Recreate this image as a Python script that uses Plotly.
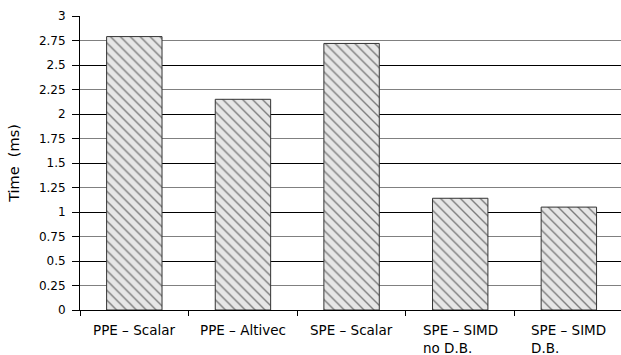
import plotly.graph_objects as go

categories = ["PPE – Scalar", "PPE – Altivec", "SPE – Scalar", "SPE – SIMD<br>no D.B.", "SPE – SIMD<br>D.B."]
times_ms = [2.79, 2.15, 2.72, 1.14, 1.05]
y_ticks = [0, 0.25, 0.5, 0.75, 1, 1.25, 1.5, 1.75, 2, 2.25, 2.5, 2.75, 3]
y_tick_text = ["0", "0.25", "0.5", "0.75", "1", "1.25", "1.5", "1.75", "2", "2.25", "2.5", "2.75", "3"]

FONT = "DejaVu Sans"

fig = go.Figure()
fig.add_trace(go.Bar(
    x=list(range(len(categories))),
    y=times_ms,
    width=0.51,
    marker=dict(
        color="#e6e6e6",
        line=dict(color="#333333", width=1),
        pattern=dict(shape="\\", fgcolor="#111111", bgcolor="#e6e6e6", size=7, solidity=0.2),
    ),
    showlegend=False,
))

for i, c in enumerate(categories):
    fig.add_annotation(x=i, y=0, xref="x", yref="paper", text=c, showarrow=False,
                       xanchor="center", yanchor="top", align="left", yshift=-10,
                       font=dict(family=FONT, size=13.5, color="#000"))

fig.update_layout(
    width=621, height=355,
    margin=dict(l=80, r=0, t=16, b=45),
    plot_bgcolor="white", paper_bgcolor="white",
    font=dict(family=FONT, size=12, color="#000"),
    xaxis=dict(
        range=[-0.5, 4.48],
        tickvals=[-0.5, 0.5, 1.5, 2.5, 3.5],
        ticktext=["", "", "", "", ""],
        ticks="outside", ticklen=5, tickcolor="black", tickwidth=1,
        showgrid=False, showline=True, linecolor="black", linewidth=1,
        zeroline=False, automargin=False,
    ),
    yaxis=dict(
        range=[0, 3],
        tickvals=y_ticks, ticktext=y_tick_text,
        ticks="outside", ticklen=7, tickcolor="black", tickwidth=1,
        ticklabelstandoff=4,
        showgrid=True, gridcolor="#808080", gridwidth=1,
        showline=True, linecolor="black", linewidth=1,
        zeroline=False, automargin=False,
        tickfont=dict(family=FONT, size=12, color="#000"),
        title=dict(text="Time  (ms)", font=dict(family=FONT, size=14.5, color="#000"), standoff=15),
    ),
    yaxis2=dict(
        range=[0, 3], overlaying="y", dtick=0.5, tick0=0,
        showticklabels=False, ticks="",
        showgrid=True, gridcolor="black", gridwidth=1, zeroline=False,
    ),
)
# dummy trace to activate yaxis2
fig.add_trace(go.Scatter(x=[None], y=[None], yaxis="y2", showlegend=False, hoverinfo="skip"))

fig.write_html("out.html", config={"displayModeBar": False},
               post_script="document.body.style.margin='0px';document.body.style.overflow='hidden';document.documentElement.style.overflow='hidden';")
